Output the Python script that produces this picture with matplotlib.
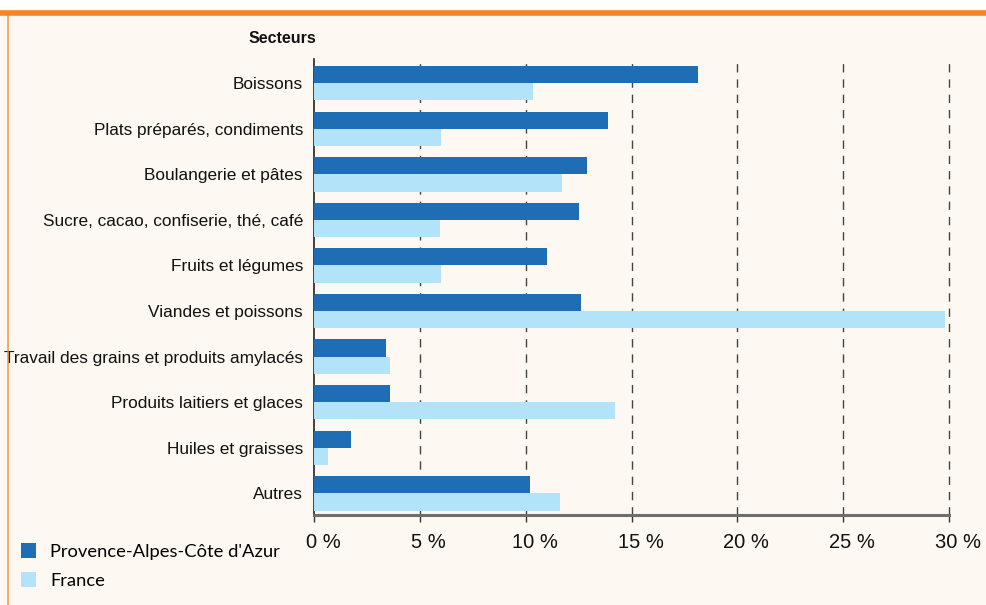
import matplotlib.pyplot as plt
from matplotlib.patches import Patch
from matplotlib.lines import Line2D
from matplotlib.transforms import ScaledTranslation

secteurs = ["Boissons", "Plats préparés, condiments", "Boulangerie et pâtes",
            "Sucre, cacao, confiserie, thé, café", "Fruits et légumes",
            "Viandes et poissons", "Travail des grains et produits amylacés",
            "Produits laitiers et glaces", "Huiles et graisses", "Autres"]
paca = [18.15, 13.9, 12.9, 12.5, 11.0, 12.6, 3.4, 3.6, 1.75, 10.2]
france = [10.35, 6.0, 11.7, 5.95, 6.0, 29.8, 3.6, 14.2, 0.65, 11.6]
xticks = [0, 5, 10, 15, 20, 25, 30]

BG = "#fdf8f1"
ORANGE = "#f28527"
DARK = "#1f6db4"
LIGHT = "#b3e3f8"

fig = plt.figure(figsize=(9.86, 6.05), dpi=100, facecolor=BG)
ax = fig.add_axes([0.3185, 0.1488, 0.644, 0.7537])
ax.set_facecolor(BG)

h = 0.378
pos = list(range(len(secteurs)))
ax.barh([p - h / 2 for p in pos], paca, height=h, color=DARK, zorder=3)
ax.barh([p + h / 2 for p in pos], france, height=h, color=LIGHT, zorder=3)

ax.set_ylim(9.476, -0.532)
ax.set_xlim(0, 30)
ax.set_yticks(pos)
ax.set_yticklabels(secteurs, family=["Liberation Sans Narrow", "Liberation Sans"], fontsize=12.4, color="#111111")
ax.set_xticks(xticks)
ax.set_xticklabels([f"{t} %" for t in xticks], family=["Liberation Sans"], fontsize=14.5, color="#111111")
ax.tick_params(axis="y", length=0, pad=8)
ax.tick_params(axis="x", length=5, width=1, color="#333333", pad=8)
shift = ScaledTranslation(9 / 100, 0, fig.dpi_scale_trans)
for lab in ax.get_xticklabels():
    lab.set_transform(lab.get_transform() + shift)

for t in xticks[1:]:
    ax.axvline(t, color="#444444", lw=1, ls=(0, (6, 5)), zorder=1, clip_on=False)

for s in ["top", "right"]:
    ax.spines[s].set_visible(False)
ax.spines["left"].set_color("#222222")
ax.spines["left"].set_linewidth(1.2)
ax.spines["bottom"].set_color("#6e6e6e")
ax.spines["bottom"].set_linewidth(2.2)

fig.text(0.3185 + 0.002, 0.937, "Secteurs", ha="right", va="center", fontsize=11.5,
         fontweight="bold", family=["Liberation Sans"], color="#111111")

# cadre orange
fig.patches.append(plt.Rectangle((0, 0.985), 1, 0.015, transform=fig.transFigure,
                                 facecolor="white", edgecolor="none", zorder=0))
fig.add_artist(Line2D([0, 1], [0.979, 0.979], transform=fig.transFigure, color=ORANGE, lw=4))
fig.add_artist(Line2D([0.008, 0.008], [0, 0.976], transform=fig.transFigure, color=ORANGE, lw=1.2, alpha=0.8))

handles = [Patch(facecolor=DARK, edgecolor="none", label="Provence-Alpes-Côte d'Azur"),
           Patch(facecolor=LIGHT, edgecolor="none", label="France")]
fig.legend(handles=handles, loc="upper left", bbox_to_anchor=(0.006, 0.126), frameon=False,
           prop={"family": ["Lato", "DejaVu Sans"], "size": 13.2}, handlelength=0.85, handleheight=0.85,
           handletextpad=0.75, labelspacing=0.65, borderpad=0.3)

fig.savefig("out.png", dpi=100, facecolor=BG)
